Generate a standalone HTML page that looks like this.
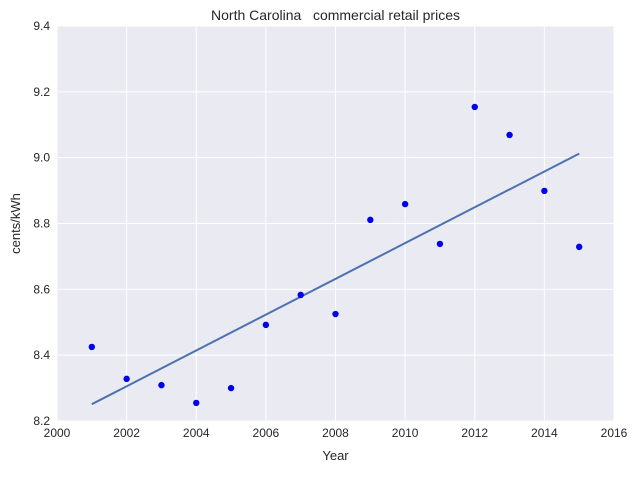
<!DOCTYPE html>
<html><head><meta charset="utf-8"><style>
body{margin:0;background:#fff;font-family:"Liberation Sans",sans-serif}
</style></head><body>
<svg id="chart" width="636" height="472" xmlns="http://www.w3.org/2000/svg" font-family="Liberation Sans, sans-serif"></svg>
<script>
const years=[2001,2002,2003,2004,2005,2006,2007,2008,2009,2010,2011,2012,2013,2014,2015];
const prices=[8.425,8.328,8.309,8.255,8.300,8.492,8.583,8.525,8.811,8.859,8.738,9.154,9.069,8.899,8.729];
const xTicks=[2000,2002,2004,2006,2008,2010,2012,2014,2016];
const yTicks=[8.2,8.4,8.6,8.8,9.0,9.2,9.4];
const L=57,R=614,T=26,B=421;
const sx=v=>L+(v-2000)/16*(R-L);
const sy=v=>B-(v-8.2)/1.2*(B-T);
const svg=document.getElementById('chart');
const NS='http://www.w3.org/2000/svg';
function mk(tag,attrs,parent){const e=document.createElementNS(NS,tag);for(const k in attrs)e.setAttribute(k,attrs[k]);(parent||svg).appendChild(e);return e;}
let bg=mk('rect',{x:L,y:T,width:R-L,height:B-T,fill:'#EAEAF2'});


xTicks.forEach(t=>{
  let g=mk('line',{x1:sx(t),x2:sx(t),y1:T,y2:B,stroke:'#fff','stroke-width':1});
  
  
  let tx=mk('text',{x:sx(t),y:B+16,'text-anchor':'middle','font-size':12,fill:'#262626'});
  tx.textContent=t;
  
  
});
yTicks.forEach(t=>{
  let g=mk('line',{x1:L,x2:R,y1:sy(t),y2:sy(t),stroke:'#fff','stroke-width':1});
  
  
  let tx=mk('text',{x:L-7,y:sy(t)+4,'text-anchor':'end','font-size':12,fill:'#262626'});
  tx.textContent=t.toFixed(1);
  
  
});
const n=years.length,mx=years.reduce((a,b)=>a+b)/n,my=prices.reduce((a,b)=>a+b)/n;
let num=0,den=0;years.forEach((x,i)=>{num+=(x-mx)*(prices[i]-my);den+=(x-mx)**2;});
const slope=num/den,ic=my-slope*mx;
const x0=years[0],x1=years[n-1];
let fl=mk('line',{x1:sx(x0),y1:sy(ic+slope*x0),x2:sx(x1),y2:sy(ic+slope*x1),stroke:'#4C72B0','stroke-width':2});


years.forEach((x,i)=>{
  let c=mk('circle',{cx:sx(x),cy:sy(prices[i]),r:3.2,fill:'#0000ee'});
  
  
});
let title=mk('text',{x:(L+R)/2,y:20,'text-anchor':'middle','font-size':14,fill:'#262626',style:'white-space:pre'});
title.textContent='North Carolina   commercial retail prices';


let xl=mk('text',{x:(L+R)/2,y:460,'text-anchor':'middle','font-size':13,fill:'#262626'});
xl.textContent='Year';


let yl=mk('text',{x:20,y:(T+B)/2,'text-anchor':'middle','font-size':13,fill:'#262626',transform:'rotate(-90 20 '+(T+B)/2+')'});
yl.textContent='cents/kWh';


</script>
</body></html>
